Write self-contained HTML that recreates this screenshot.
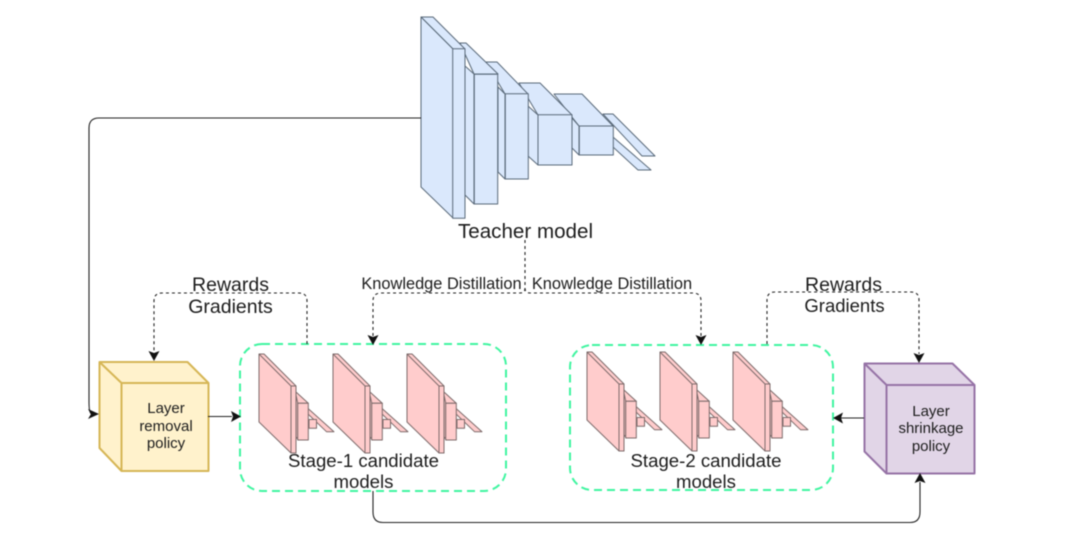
<!DOCTYPE html>
<html><head><meta charset="utf-8"><style>
html,body{margin:0;padding:0;background:#fff}
svg{display:block}
text{font-family:"Liberation Sans",sans-serif;fill:#1c1c1c;text-anchor:middle}
</style></head><body>
<svg width="1080" height="548" viewBox="0 0 1080 548" xmlns="http://www.w3.org/2000/svg" style="filter:blur(.55px)">
<defs>
<g id="m" stroke="#7d6b6b" stroke-width="1" fill="#ffcccc" stroke-linejoin="round">
<polygon points="259,354 264,354 296,386 296,453 291,453 259,422"/>
<polygon points="307.500,408 334,431.700 326.500,431.700 308,414"/>
<polygon points="296,392 308.300,403.300 297.700,403.300 296,401"/>
<polygon points="296,395 297.700,403 297.700,439 296,437"/>
<rect x="297.700" y="403.300" width="10.600" height="36.700"/>
<rect x="309" y="419.500" width="7.500" height="8.800"/>
<rect x="291" y="386" width="5" height="67"/>
<polyline points="259,354 291,386" fill="none"/>
</g>
</defs>
<g stroke="#5a6a7a" stroke-width="1" fill="#dae8fc" stroke-linejoin="round">
<polygon points="613,137 651,170 638,170 613,147"/>
<polygon points="603,114 613,114 655,156 642,156"/>
<polygon points="554,94 582,94 613,126 579,126"/>
<polygon points="572,118 579,126 579,155 572,148"/>
<rect x="579.300" y="126" width="34" height="29"/>
<polygon points="519,83 540,83 572,115 538,115"/>
<polygon points="528,106 538,115 538,165 528,156"/>
<rect x="538" y="114.700" width="34" height="50.300"/>
<polygon points="486,62 497,62 528,94 505,94"/>
<polygon points="498,87 505,94 505,179 498,172"/>
<rect x="505.300" y="93.700" width="23" height="85.300"/>
<polygon points="460,43 466,43 498,74 474,74"/>
<polygon points="465,66 474,74 474,204 465,195"/>
<rect x="474.300" y="74.300" width="23.400" height="129.700"/>
<polygon points="421,17 433,17 465,49 453,49"/>
<polygon points="421,17 453,49 453,218 421,187"/>
<rect x="452.700" y="48.700" width="12.300" height="169.600"/>
</g>
<use href="#m"/><use href="#m" x="74"/><use href="#m" x="148"/>
<use href="#m" x="328" y="-2"/><use href="#m" x="401" y="-2"/><use href="#m" x="474" y="-2"/>
<rect x="240" y="344" width="266" height="147" rx="22" fill="none" stroke="#3ff5a0" stroke-width="2" stroke-dasharray="8 5"/>
<rect x="570" y="345" width="263" height="145" rx="22" fill="none" stroke="#3ff5a0" stroke-width="2" stroke-dasharray="8 5"/>
<g stroke="#d6b656" stroke-width="2" fill="#fff2cc" stroke-linejoin="round">
<polygon points="99.500,362 187.500,362 208.500,383 208.500,471 121.500,471 99.500,448"/>
<polyline points="99.500,362 121.500,383 208.500,383" fill="none"/>
<line x1="121.500" y1="383" x2="121.500" y2="471"/>
</g>
<g stroke="#9673a6" stroke-width="2" fill="#e1d5e7" stroke-linejoin="round">
<polygon points="864.500,363.500 952.500,363.500 974.500,385 974.500,473.500 886.500,473.500 864.500,451.500"/>
<polyline points="864.500,363.500 886.500,385 974.500,385" fill="none"/>
<line x1="886.500" y1="385" x2="886.500" y2="473.500"/>
</g>
<g fill="none" stroke="#222" stroke-width="1.100">
<path d="M421 118H99Q89 118 89 128V402Q89 414 92 414"/>
<path d="M208 416.500H232"/>
<path d="M864 418H841"/>
<path d="M373 491V512Q373 522.500 383 522.500H910Q920 522.500 920 512V482"/>
</g>
<g fill="none" stroke="#222" stroke-width="1.100" stroke-dasharray="3 3">
<path d="M307 344V301Q307 293 299 293H162Q154 293 154 301V352"/>
<path d="M525 240V288Q525 293 520 293H381Q373 293 373 301V336"/>
<path d="M525 288Q525 293 530 293H693Q701 293 701 301V336"/>
<path d="M767 344V300Q767 292 775 292H911Q919 292 919 300V354"/>
</g>
<g fill="#111" stroke="none">
<polygon points="99,414 88,409 91,414 88,419"/>
<polygon points="241,416.500 231,411 233,416.500 231,422"/>
<polygon points="833,418 843,412.500 841,418 843,423.500"/>
<polygon points="920,473 914.500,483 920,481 925.500,483"/>
<polygon points="154,361 148.500,351 154,353 159.500,351"/>
<polygon points="373,345 367.500,335 373,337 378.500,335"/>
<polygon points="701,345 695.500,335 701,337 706.500,335"/>
<polygon points="919,363 913.500,353 919,355 924.500,353"/>
</g>
<text x="525.500" y="238" font-size="20.600">Teacher model</text>
<text x="230.500" y="291" font-size="19.500">Rewards</text>
<text x="230.500" y="313" font-size="19.500">Gradients</text>
<text x="441.500" y="289" font-size="16.400">Knowledge Distillation</text>
<text x="612" y="289" font-size="16.400">Knowledge Distillation</text>
<text x="843.500" y="291" font-size="19.500">Rewards</text>
<text x="844.500" y="312" font-size="18.500">Gradients</text>
<text x="166" y="413" font-size="15">Layer</text>
<text x="166" y="431" font-size="15">removal</text>
<text x="166" y="448" font-size="15">policy</text>
<text x="931" y="416" font-size="15">Layer</text>
<text x="931" y="433" font-size="15">shrinkage</text>
<text x="931" y="451" font-size="15">policy</text>
<text x="363.500" y="467" font-size="18.600">Stage-1 candidate</text>
<text x="363.500" y="488" font-size="18.600">models</text>
<text x="706" y="467" font-size="18.600">Stage-2 candidate</text>
<text x="706" y="488" font-size="18.600">models</text>
</svg>
</body></html>
